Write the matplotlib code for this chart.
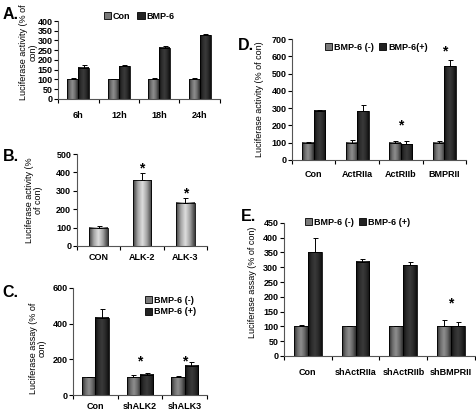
import numpy as np
import matplotlib.pyplot as plt
from matplotlib.colors import LinearSegmentedColormap
from matplotlib.patches import Patch

plt.rcParams['font.family'] = ['Liberation Sans', 'DejaVu Sans']
plt.rcParams['font.weight'] = 'bold'
plt.rcParams['font.size'] = 6.5

# ---- data ----
a_cats = ["6h", "12h", "18h", "24h"]
a_con = [100, 100, 100, 100]
a_con_err = [5, 4, 8, 8]
a_bmp = [160, 167, 262, 327]
a_bmp_err = [13, 8, 12, 7]

b_cats = ["CON", "ALK-2", "ALK-3"]
b_vals = [100, 357, 235]
b_err = [8, 38, 25]
b_star = [False, True, True]

c_cats = ["Con", "shALK2", "shALK3"]
c_neg = [100, 100, 100]
c_neg_err = [4, 12, 8]
c_pos = [433, 115, 165]
c_pos_err = [48, 10, 18]
c_star = [None, 186, 186]

d_cats = ["Con", "ActRIIa", "ActRIIb", "BMPRII"]
d_neg = [100, 100, 100, 100]
d_neg_err = [5, 15, 8, 8]
d_pos = [285, 282, 92, 545]
d_pos_err = [3, 35, 15, 35]
d_star = [None, None, 198, 630]

e_cats = ["Con", "shActRIIa", "shActRIIb", "shBMPRII"]
e_neg = [100, 100, 100, 100]
e_neg_err = [5, 3, 3, 20]
e_pos = [350, 318, 307, 100]
e_pos_err = [50, 10, 10, 15]
e_star = [None, None, None, 178]

# cylinder-like shading
cm_gray = LinearSegmentedColormap.from_list("g", ["#2e2e2e", "#6c6c6c", "#8e8e8e", "#6a6a6a", "#2e2e2e"])
cm_light = LinearSegmentedColormap.from_list("l", ["#3c3c3c", "#a4a4a4", "#dedede", "#a0a0a0", "#3c3c3c"])
cm_dark = LinearSegmentedColormap.from_list("d", ["#0e0e0e", "#2c2c2c", "#3a3a3a", "#2a2a2a", "#0e0e0e"])
grad = np.linspace(0, 1, 64).reshape(1, -1)


def shade(ax, bars, cmap):
    for b in bars:
        x0, y0 = b.get_x(), b.get_y()
        w, h = b.get_width(), b.get_height()
        ax.imshow(grad, cmap=cmap, extent=(x0, x0 + w, y0, y0 + h),
                  aspect="auto", zorder=1, interpolation="bilinear")
        b.set_facecolor("none")
        b.set_zorder(2)


def style(ax, cats, ymax, step, ylabel, pad, lx, ly):
    n = len(cats)
    ax.set_xlim(-0.5, n - 0.5)
    ax.set_ylim(0, ymax)
    ax.set_yticks(np.arange(0, ymax + 1, step))
    ax.set_xticks(np.arange(n + 1) - 0.5)
    ax.set_xticklabels([])
    ax.set_xticks(np.arange(n), minor=True)
    ax.set_xticklabels(cats, minor=True)
    ax.tick_params(axis="x", which="minor", length=0, pad=pad)
    ax.tick_params(axis="x", which="major", length=3, width=0.8, direction="out")
    ax.tick_params(axis="y", length=3, width=0.8, direction="out", pad=1)
    for s in ["top", "right"]:
        ax.spines[s].set_visible(False)
    for s in ["left", "bottom"]:
        ax.spines[s].set_linewidth(0.8)
        ax.spines[s].set_color("#555555")
    ax.set_ylabel(ylabel, fontsize=6.5, linespacing=1.0)
    ax.yaxis.set_label_coords(lx, ly)


def paired(ax, cats, neg, neg_err, pos, pos_err, width, stars):
    x = np.arange(len(cats))
    b1 = ax.bar(x - width / 2, neg, width, edgecolor="black", linewidth=0.6,
                yerr=[np.zeros(len(x)), neg_err], capsize=1.8,
                error_kw=dict(elinewidth=0.7, capthick=0.7, ecolor="black"))
    b2 = ax.bar(x + width / 2, pos, width, edgecolor="black", linewidth=0.6,
                yerr=[np.zeros(len(x)), pos_err], capsize=1.8,
                error_kw=dict(elinewidth=0.7, capthick=0.7, ecolor="black"))
    shade(ax, b1, cm_gray)
    shade(ax, b2, cm_dark)
    for xi, s in zip(x, stars):
        if s is not None:
            ax.text(xi, s, "*", ha="center", va="center", fontsize=10)


def leg(ax, labels, **kw):
    h = [Patch(facecolor="#7a7a7a", edgecolor="black", linewidth=0.6),
         Patch(facecolor="#222222", edgecolor="black", linewidth=0.6)]
    ax.legend(h, labels, frameon=False, handlelength=0.8, handleheight=0.8,
              handletextpad=0.2, borderaxespad=0, fontsize=6.5, **kw)


fig = plt.figure(figsize=(4.77, 4.12), dpi=100)

# A
axA = fig.add_axes([0.122, 0.760, 0.339, 0.189])
paired(axA, a_cats, a_con, a_con_err, a_bmp, a_bmp_err, 0.27, [None] * 4)
style(axA, a_cats, 400, 50, "Luciferase activity (% of\ncon)", 9, -0.13, 0.6)
leg(axA, ["Con", "BMP-6"], ncol=2, loc="lower center", bbox_to_anchor=(0.5, 0.96), columnspacing=0.8)

# B
axB = fig.add_axes([0.161, 0.403, 0.273, 0.223])
xb = np.arange(len(b_cats))
bb = axB.bar(xb, b_vals, 0.43, edgecolor="black", linewidth=0.6,
             yerr=[np.zeros(len(xb)), b_err], capsize=1.8,
             error_kw=dict(elinewidth=0.7, capthick=0.7, ecolor="black"))
shade(axB, bb, cm_light)
for xi, v, e, s in zip(xb, b_vals, b_err, b_star):
    if s:
        axB.text(xi, v + e + 28, "*", ha="center", va="center", fontsize=10)
style(axB, b_cats, 500, 100, "Luciferase activity (%\nof con)", 5, -0.26, 0.5)

# C
axC = fig.add_axes([0.153, 0.041, 0.281, 0.260])
paired(axC, c_cats, c_neg, c_neg_err, c_pos, c_pos_err, 0.3, c_star)
style(axC, c_cats, 600, 200, "Luciferase assay (% of\ncon)", 5, -0.194, 0.44)
leg(axC, ["BMP-6 (-)", "BMP-6 (+)"], ncol=1, loc="upper right", bbox_to_anchor=(0.945, 0.963), labelspacing=0.3)

# D
axD = fig.add_axes([0.612, 0.612, 0.365, 0.293])
paired(axD, d_cats, d_neg, d_neg_err, d_pos, d_pos_err, 0.26, d_star)
style(axD, d_cats, 700, 100, "Luciferase activity (% of con)", 7, -0.161, 0.5)
leg(axD, ["BMP-6 (-)", "BMP-6(+)"], ncol=2, loc="upper center", bbox_to_anchor=(0.483, 1.0), columnspacing=0.6)

# E
axE = fig.add_axes([0.595, 0.136, 0.401, 0.323])
paired(axE, e_cats, e_neg, e_neg_err, e_pos, e_pos_err, 0.29, e_star)
style(axE, e_cats, 450, 50, "Luciferase assay (% of con)", 9, -0.141, 0.55)
leg(axE, ["BMP-6 (-)", "BMP-6 (+)"], ncol=2, loc="upper center", bbox_to_anchor=(0.385, 1.065), columnspacing=0.6)

# panel letters
for lbl, x, y in [("A.", 0.005, 0.965), ("B.", 0.005, 0.62), ("C.", 0.005, 0.29),
                  ("D.", 0.498, 0.89), ("E.", 0.505, 0.475)]:
    fig.text(x, y, lbl, fontsize=11.5, fontweight="bold", va="center", ha="left")

fig.savefig("out.png", dpi=100)
